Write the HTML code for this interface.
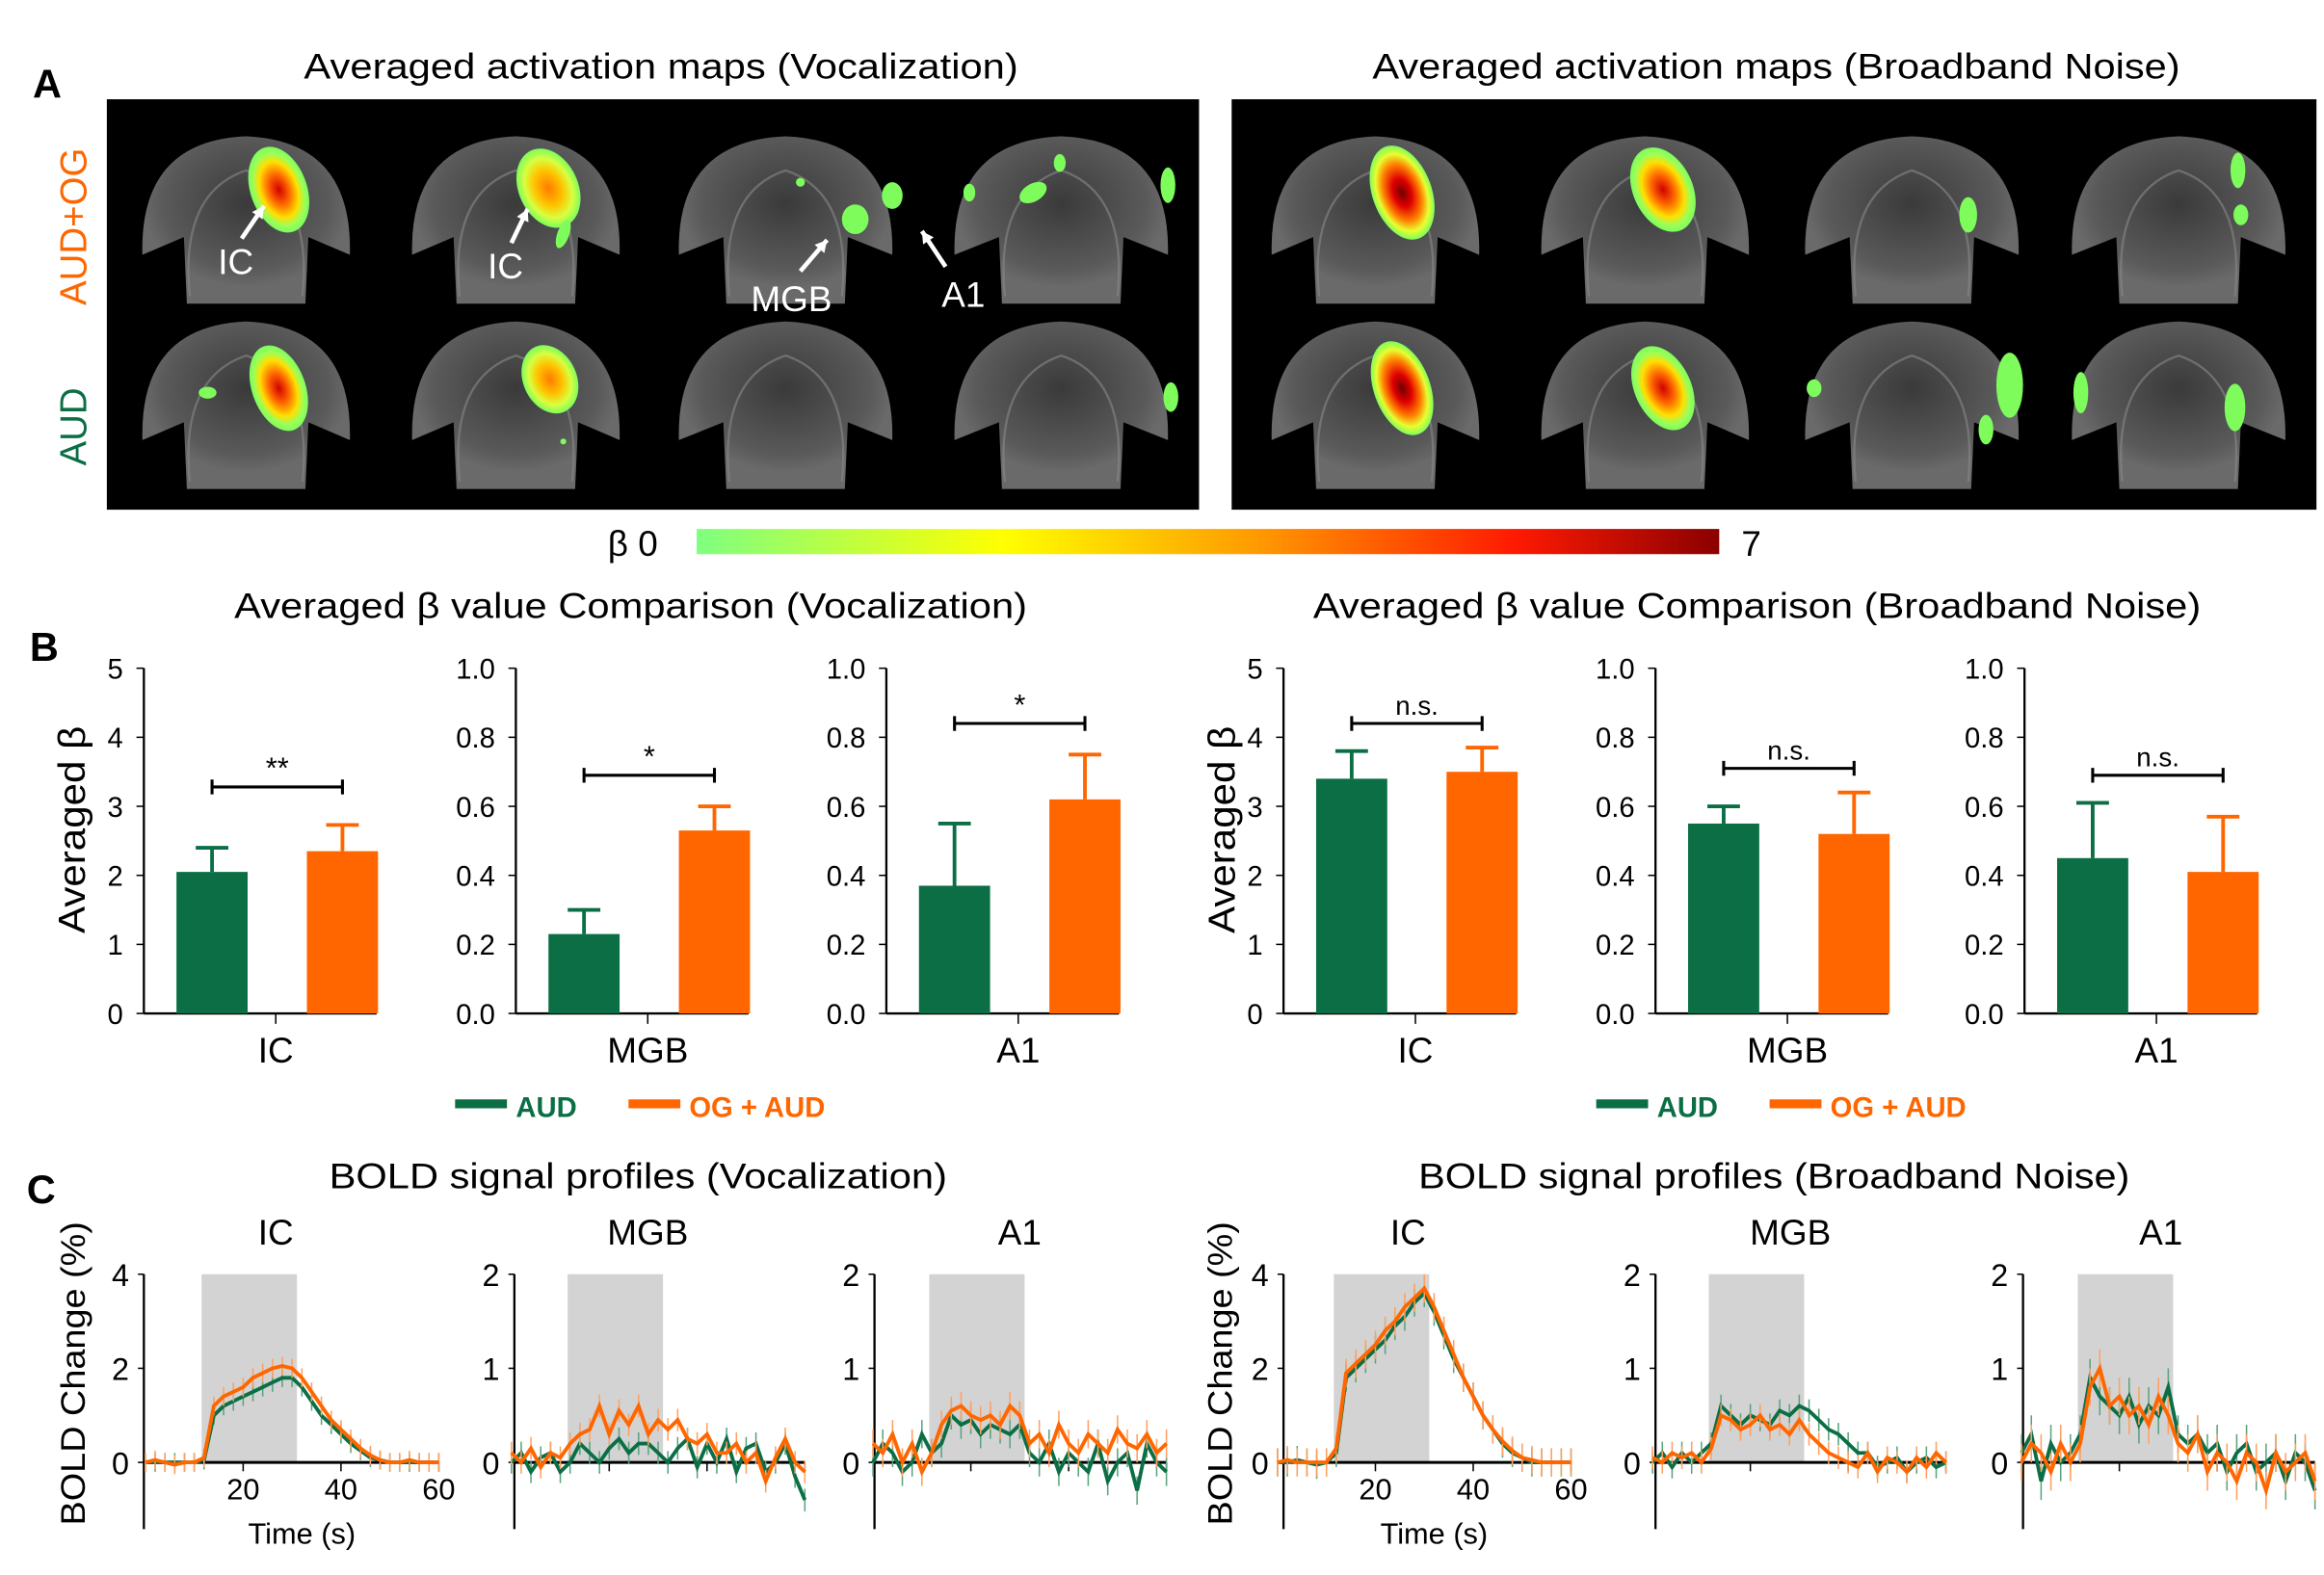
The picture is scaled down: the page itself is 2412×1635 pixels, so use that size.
<!DOCTYPE html>
<html><head><meta charset="utf-8"><style>
html,body{margin:0;padding:0;background:#fff}
svg{display:block}
text{font-family:"Liberation Sans",Arial,sans-serif}
</style></head><body>
<svg id="fig" width="2412" height="1635" viewBox="0 0 1568 1063" xmlns="http://www.w3.org/2000/svg">
<defs>
<linearGradient id="cbar" x1="0" x2="1" y1="0" y2="0">
<stop offset="0" stop-color="#7fff7f"/><stop offset="0.3" stop-color="#ffff00"/><stop offset="0.55" stop-color="#ff9900"/><stop offset="0.8" stop-color="#ff1a00"/><stop offset="1" stop-color="#8b0000"/></linearGradient>
<radialGradient id="hot"><stop offset="0" stop-color="#d00000"/><stop offset="0.35" stop-color="#ff6600"/><stop offset="0.65" stop-color="#ffe000"/><stop offset="0.85" stop-color="#9aff5a"/><stop offset="1" stop-color="#7dfc5c"/></radialGradient>
<radialGradient id="hot2"><stop offset="0" stop-color="#ff7a00"/><stop offset="0.45" stop-color="#ffc400"/><stop offset="0.75" stop-color="#d8ff40"/><stop offset="1" stop-color="#7dfc5c"/></radialGradient>
<radialGradient id="hot3"><stop offset="0" stop-color="#700000"/><stop offset="0.3" stop-color="#e00000"/><stop offset="0.6" stop-color="#ff8000"/><stop offset="0.82" stop-color="#e8ff30"/><stop offset="1" stop-color="#7dfc5c"/></radialGradient>
<radialGradient id="brainG" cx="0.5" cy="0.4"><stop offset="0" stop-color="#3a3a3a"/><stop offset="0.8" stop-color="#5a5a5a"/><stop offset="1" stop-color="#6a6a6a"/></radialGradient>
</defs>
<g id="root"></g>
</svg>
<script>
// ---------- DATA ----------
const barCategories = ["IC","MGB","A1","IC","MGB","A1"];
const barAUD = [2.05, 0.23, 0.37, 3.4, 0.55, 0.45];
const barAUDerr = [0.35, 0.07, 0.18, 0.4, 0.05, 0.16];
const barOG = [2.35, 0.53, 0.62, 3.5, 0.52, 0.41];
const barOGerr = [0.38, 0.07, 0.13, 0.35, 0.12, 0.16];
const barYmax = [5, 1, 1, 5, 1, 1];
const barSig = ["**","*","*","n.s.","n.s.","n.s."];
const barSigLevel = [3.28, 0.69, 0.84, 4.2, 0.71, 0.69];
const ticks5 = ["0","1","2","3","4","5"];
const ticks1 = ["0.0","0.2","0.4","0.6","0.8","1.0"];

const timeSec = [0,2,4,6,8,10,12,14,16,18,20,22,24,26,28,30,32,34,36,38,40,42,44,46,48,50,52,54,56,58,60];
const vIC_AUD = [0,0,0,0,0,0,0.05,1.0,1.2,1.3,1.4,1.5,1.6,1.7,1.8,1.8,1.6,1.3,1.0,0.8,0.6,0.4,0.25,0.1,0.05,0,0,0,0,0,0];
const vIC_OG  = [0,0.05,0,-0.05,0,0,0.1,1.2,1.4,1.5,1.6,1.8,1.9,2.0,2.05,2.0,1.8,1.5,1.2,0.9,0.7,0.5,0.3,0.15,0.05,0,0,0.05,0,0,0];
const vMGB_AUD = [0,0.1,-0.1,0.05,0.1,-0.1,0.0,0.2,0.1,0.0,0.15,0.25,0.1,0.2,0.2,0.1,0.0,0.15,0.25,-0.05,0.2,0.0,0.25,-0.1,0.15,0.2,-0.1,0.0,0.2,-0.15,-0.4];
const vMGB_OG  = [0.1,0.0,0.15,-0.05,0.1,0.05,0.2,0.3,0.35,0.6,0.3,0.55,0.4,0.6,0.3,0.45,0.35,0.45,0.25,0.2,0.3,0.1,0.1,0.2,0.0,0.1,-0.2,0.05,0.25,0.0,-0.1];
const vA1_AUD = [0,0.2,0.1,-0.1,0,0.3,0.1,0.2,0.5,0.4,0.45,0.3,0.4,0.35,0.3,0.4,0.1,0,0.2,-0.1,0.1,0.0,-0.1,0.2,-0.2,0,0.1,-0.3,0.2,0,-0.1];
const vA1_OG  = [0.2,0.1,0.3,0.0,0.2,-0.1,0.1,0.4,0.55,0.6,0.5,0.45,0.5,0.4,0.6,0.5,0.2,0.3,0.1,0.4,0.2,0.1,0.3,0.2,0.1,0.35,0.2,0.15,0.3,0.1,0.2];
const nIC_AUD = [0,0,0.05,0,-0.05,0,0.2,1.8,2.0,2.2,2.4,2.6,2.9,3.1,3.4,3.6,3.2,2.7,2.2,1.8,1.4,1.0,0.7,0.4,0.2,0.1,0,0,0,0,0];
const nIC_OG  = [0,0.05,0,0,0,0,0.3,1.9,2.1,2.3,2.5,2.8,3.0,3.3,3.5,3.7,3.3,2.8,2.3,1.8,1.4,1.0,0.7,0.45,0.25,0.1,0.05,0,0,0,0];
const nMGB_AUD = [0,0.1,-0.05,0.1,0,0.1,0.2,0.6,0.5,0.4,0.5,0.45,0.4,0.55,0.5,0.6,0.55,0.45,0.35,0.3,0.2,0.1,0.1,-0.05,0,0.05,-0.1,0,0.05,-0.05,0];
const nMGB_OG  = [0.05,0,0.1,0.05,0.1,0.0,0.15,0.5,0.45,0.35,0.4,0.5,0.35,0.4,0.3,0.45,0.3,0.2,0.1,0.05,0,-0.05,0.1,-0.1,0.05,0,-0.1,0.05,-0.05,0.1,0];
const nA1_AUD = [0.1,0.3,-0.2,0.2,0,0.1,0.3,0.9,0.7,0.6,0.5,0.7,0.4,0.6,0.5,0.8,0.3,0.2,0.3,0.1,0.2,-0.1,0.1,0.2,-0.1,0,0.1,-0.2,0.1,0,-0.3];
const nA1_OG  = [0,0.2,0.1,-0.1,0.2,0.0,0.2,0.8,1.0,0.6,0.7,0.5,0.6,0.4,0.7,0.5,0.2,0.1,0.3,-0.1,0.1,0.0,-0.2,0.1,0.0,-0.3,0.1,-0.1,0,0.1,-0.2];
const lineAUD = [vIC_AUD,vMGB_AUD,vA1_AUD,nIC_AUD,nMGB_AUD,nA1_AUD];
const lineOG = [vIC_OG,vMGB_OG,vA1_OG,nIC_OG,nMGB_OG,nA1_OG];
const lineYmax = [4,2,2,4,2,2];
const lineErr = [0.2,0.12,0.15,0.3,0.12,0.2];

// ---------- helpers ----------
const NS="http://www.w3.org/2000/svg";
const root=document.getElementById('root');
function mk(tag,attrs,parent,txt){const e=document.createElementNS(NS,tag);for(const k in attrs)e.setAttribute(k,attrs[k]);if(txt!==undefined)e.textContent=txt;(parent||root).appendChild(e);return e;}
const GREEN="#0b6e45", ORANGE="#ff6600";

// ---------- titles ----------
let t;
t=mk('text',{x:22,y:66,'font-size':27,'font-weight':'bold'},root,'A');
t=mk('text',{x:20,y:446,'font-size':27,'font-weight':'bold'},root,'B');
t=mk('text',{x:18,y:812,'font-size':27,'font-weight':'bold'},root,'C');
const titles=[[205,53,'Averaged activation maps (Vocalization)','title-maps-vocal',482],[926,53,'Averaged activation maps (Broadband Noise)','title-maps-noise',545],
[158,417,'Averaged β value Comparison (Vocalization)','title-beta-vocal',535],[886,417,'Averaged β value Comparison (Broadband Noise)','title-beta-noise',599],
[222,802,'BOLD signal profiles (Vocalization)','title-bold-vocal',417],[957,802,'BOLD signal profiles (Broadband Noise)','title-bold-noise',480]];
titles.forEach(a=>{const e=mk('text',{x:a[0],y:a[1],'font-size':24,textLength:a[4],lengthAdjust:'spacingAndGlyphs'},root,a[2]);});

// ---------- panel A ----------
mk('rect',{x:72,y:67,width:737,height:277,fill:'#000'});
mk('rect',{x:831,y:67,width:732,height:277,fill:'#000'});
t=mk('text',{transform:'translate(58,153) rotate(-90)','font-size':25,fill:ORANGE,'text-anchor':'middle'},root,'AUD+OG');
t=mk('text',{transform:'translate(58,288) rotate(-90)','font-size':25,fill:GREEN,'text-anchor':'middle'},root,'AUD');
const brainX=[166,348,530,716,928,1110,1290,1470];
const brainY=[150,275];
brainY.forEach((by,r)=>brainX.forEach((bx,c)=>{
  const g=mk('g',{});
  const w=c%4<2?70:72;
  mk('path',{d:`M${bx-w},${by+22} Q${bx-w-2},${by-55} ${bx},${by-58} Q${bx+w+2},${by-55} ${bx+w},${by+22} L${bx+42},${by+10} L${bx+40},${by+55} L${bx-40},${by+55} L${bx-42},${by+10} Z`,fill:'url(#brainG)'},g);
  mk('path',{d:`M${bx-38},${by+50} Q${bx-45},${by-20} ${bx},${by-35} Q${bx+45},${by-20} ${bx+38},${by+50}`,fill:'none',stroke:'#888','stroke-width':1.5,opacity:0.6},g);
}));
const blobs=[
 [188,128,19,30,-20,'url(#hot)'],[370,127,20,28,-25,'url(#hot2)'],[380,158,4,10,20,'#7dfc5c'],
 [577,148,9,10,0,'#7dfc5c'],[602,132,7,9,0,'#7dfc5c'],[540,123,3,3,0,'#7dfc5c'],[697,130,10,6,-30,'#7dfc5c'],[715,110,4,6,0,'#7dfc5c'],[654,130,4,6,0,'#7dfc5c'],[788,125,5,12,0,'#7dfc5c'],
 [188,262,18,30,-20,'url(#hot)'],[371,256,18,24,-25,'url(#hot2)'],[140,265,6,4,0,'#7dfc5c'],[380,298,2,2,0,'#7dfc5c'],[790,268,5,10,0,'#7dfc5c'],
 [946,130,20,33,-20,'url(#hot3)'],[1122,128,20,30,-25,'url(#hot)'],[1328,145,6,12,0,'#7dfc5c'],[1512,145,5,7,0,'#7dfc5c'],[1510,115,5,12,0,'#7dfc5c'],
 [946,262,19,33,-20,'url(#hot3)'],[1122,262,19,30,-25,'url(#hot)'],[1356,260,9,22,0,'#7dfc5c'],[1340,290,5,10,0,'#7dfc5c'],[1224,262,5,6,0,'#7dfc5c'],[1404,265,5,14,0,'#7dfc5c'],[1508,275,7,16,0,'#7dfc5c']];
blobs.forEach(b=>{const e=mk('ellipse',{cx:b[0],cy:b[1],rx:b[2],ry:b[3],fill:b[5],transform:`rotate(${b[4]} ${b[0]} ${b[1]})`});});
const ann=[[159,185,'IC',163,161,178,139],[341,188,'IC',345,164,356,141],[534,210,'MGB',540,183,558,162],[650,207,'A1',638,180,622,156]];
ann.forEach(a=>{const e=mk('text',{x:a[0],y:a[1],'font-size':24,fill:'#fff','text-anchor':'middle'},root,a[2]);
 mk('line',{x1:a[3],y1:a[4],x2:a[5],y2:a[6],stroke:'#fff','stroke-width':3});
 const ang=Math.atan2(a[6]-a[4],a[5]-a[3]);const L=9;
 mk('polygon',{points:`${a[5]},${a[6]} ${a[5]-L*Math.cos(ang-0.5)},${a[6]-L*Math.sin(ang-0.5)} ${a[5]-L*Math.cos(ang+0.5)},${a[6]-L*Math.sin(ang+0.5)}`,fill:'#fff'});});
t=mk('rect',{x:470,y:357,width:690,height:17,fill:'url(#cbar)'});
t=mk('text',{x:410,y:375,'font-size':24},root,'β  0');
t=mk('text',{x:1175,y:375,'font-size':24},root,'7');

// ---------- panel B bar charts ----------
const barAxisX=[97,348,598,866,1117,1366];
const bY0=684,bY1=451;
barAxisX.forEach((ax,i)=>{
  const g=mk('g',{});
  const ys=v=>bY0-(v/barYmax[i])*(bY0-bY1);
  const xs=k=>ax+22+k*88;
  mk('line',{x1:ax,y1:bY1,x2:ax,y2:bY0,stroke:'#000','stroke-width':1.5},g);
  mk('line',{x1:ax,y1:bY0,x2:ax+157,y2:bY0,stroke:'#000','stroke-width':1.5},g);
  const tl=barYmax[i]===5?ticks5:ticks1;
  tl.forEach((lab,j)=>{const v=j*barYmax[i]/5;const y=ys(v);mk('line',{x1:ax-5,y1:y,x2:ax,y2:y,stroke:'#000'},g);
    const e=mk('text',{x:ax-14,y:y+7,'font-size':19,'text-anchor':'end'},g,lab);});
  [[barAUD,barAUDerr,GREEN],[barOG,barOGerr,ORANGE]].forEach((s,k)=>{
    const x=xs(k),w=48,v=s[0][i],top=ys(v),et=ys(v+s[1][i]);
    mk('line',{x1:x+w/2,y1:top,x2:x+w/2,y2:et,stroke:s[2],'stroke-width':2.5},g);
    mk('line',{x1:x+w/2-11,y1:et,x2:x+w/2+11,y2:et,stroke:s[2],'stroke-width':2.5},g);
    const r=mk('rect',{x:x,y:top,width:w,height:bY0-top,fill:s[2]},g);
    
  });
  const xc=ax+89;mk('line',{x1:xc,y1:bY0,x2:xc,y2:bY0+7,stroke:'#000'},g);
  const c=mk('text',{x:xc,y:717,'font-size':24,'text-anchor':'middle'},g,barCategories[i]);
  const sy=ys(barSigLevel[i]),x1=xs(0)+24,x2=xs(1)+24;
  mk('path',{d:`M${x1},${sy-5}V${sy+5}M${x1},${sy}H${x2}M${x2},${sy-5}V${sy+5}`,stroke:'#000','stroke-width':2,fill:'none'},g);
  const s=mk('text',{x:(x1+x2)/2,y:sy-6,'font-size':barSig[i]==='n.s.'?18:20,'text-anchor':'middle'},g,barSig[i]);
});
[[50,'beta-y-axis-title-vocal'],[826,'beta-y-axis-title-noise']].forEach(a=>{const e=mk('text',{transform:`translate(${a[0]+7},560) rotate(-90)`,'font-size':25,'text-anchor':'middle',textLength:140,lengthAdjust:'spacingAndGlyphs'},root,'Averaged β');});
[307,1077].forEach((lx,i)=>{
  const g=mk('g',{});
  mk('rect',{x:lx,y:742,width:35,height:6,fill:GREEN},g);
  let e=mk('text',{x:lx+41,y:754,'font-size':19,'font-weight':'bold',fill:GREEN},g,'AUD');
  mk('rect',{x:lx+117,y:742,width:35,height:6,fill:ORANGE},g);
  e=mk('text',{x:lx+158,y:754,'font-size':19,'font-weight':'bold',fill:ORANGE},g,'OG + AUD');
});

// ---------- panel C line charts ----------
const lineAxisX=[97,347,590,866,1117,1365];
const lineT0X=[98,345,589,862,1115,1364];
const lineTitleX=[186,437,688,950,1208,1458];
const lineNames=["IC","MGB","A1","IC","MGB","A1"];
const lY0=987,lY1=860;
lineAxisX.forEach((ax,i)=>{
  const g=mk('g',{});
  const xs=s=>lineT0X[i]+s*3.3;
  const ys=v=>lY0-(v/lineYmax[i])*(lY0-lY1);
  const st=mk('rect',{x:xs(11.5),y:lY1,width:xs(31)-xs(11.5),height:lY0-lY1,fill:'#d3d3d3'},g);
  mk('line',{x1:ax,y1:lY1,x2:ax,y2:1032,stroke:'#000','stroke-width':1.5},g);
  mk('line',{x1:ax,y1:lY0,x2:xs(60),y2:lY0,stroke:'#000','stroke-width':2},g);
  [0,lineYmax[i]/2,lineYmax[i]].forEach(v=>{const y=ys(v);mk('line',{x1:ax-4,y1:y,x2:ax,y2:y,stroke:'#000'},g);
    const e=mk('text',{x:ax-10,y:y+8,'font-size':21,'text-anchor':'end'},g,String(v));});
  [20,40,60].forEach(v=>{mk('line',{x1:xs(v),y1:lY0,x2:xs(v),y2:lY0+6,stroke:'#000'},g);
    if(lineYmax[i]===4){const e=mk('text',{x:xs(v),y:1012,'font-size':20,'text-anchor':'middle'},g,String(v));}});
  if(lineYmax[i]===4){const e=mk('text',{x:xs(32),y:1042,'font-size':20,'text-anchor':'middle'},g,'Time (s)');}
  const n=mk('text',{x:lineTitleX[i],y:840,'font-size':24,'text-anchor':'middle'},g,lineNames[i]);
  [[lineAUD[i],GREEN,'#5aa37f','line-aud'],[lineOG[i],ORANGE,'#ffa060','line-og-aud']].forEach(s=>{
    let d='';
    s[0].forEach((v,k)=>{const x=xs(timeSec[k]),y=ys(v);d+=(k?'L':'M')+x.toFixed(1)+','+y.toFixed(1);
      mk('line',{x1:x,y1:ys(v-lineErr[i]),x2:x,y2:ys(v+lineErr[i]),stroke:s[2],'stroke-width':1},g);});
    const p=mk('path',{d:d,fill:'none',stroke:s[1],'stroke-width':2.5},g);
    
  });
});
[[52,'bold-y-axis-title-vocal'],[826,'bold-y-axis-title-noise']].forEach(a=>{const e=mk('text',{transform:`translate(${a[0]+5},927) rotate(-90)`,'font-size':23,'text-anchor':'middle',textLength:205,lengthAdjust:'spacingAndGlyphs'},root,'BOLD Change (%)');});
</script>
</body></html>
